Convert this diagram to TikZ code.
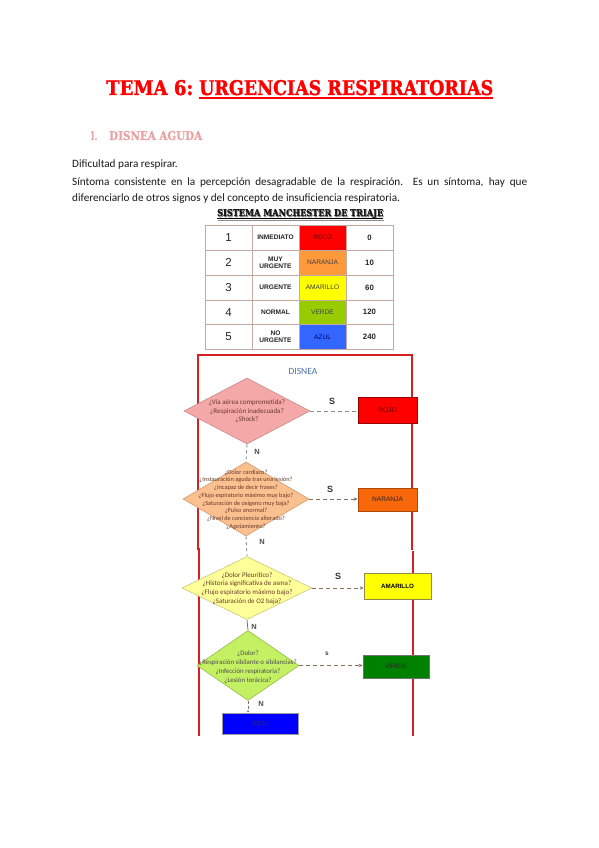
\documentclass[tikz,border=0pt]{standalone}
\usepackage{fontspec}
\setmainfont{Carlito}
\newfontfamily\serifttl[FakeBold=1.6]{DejaVu Serif Bold}
\newfontfamily\serifsub[FakeBold=0.8]{DejaVu Serif Bold}
\newfontfamily\arialf{Liberation Sans}
\usetikzlibrary{shapes.geometric,arrows.meta}
\definecolor{titlered}{HTML}{FF0000}
\definecolor{headpink}{HTML}{EAA2A2}
\definecolor{tabborder}{HTML}{C2AAA2}
\definecolor{trojo}{HTML}{FF0000}
\definecolor{tnaranja}{HTML}{FF9A3A}
\definecolor{tamarillo}{HTML}{FFFF00}
\definecolor{tverde}{HTML}{99CC00}
\definecolor{tazul}{HTML}{3366FF}
\definecolor{framered}{HTML}{D42020}
\definecolor{disneablue}{HTML}{4F6FA8}
\definecolor{dpink}{HTML}{F5A8A8}
\definecolor{dpinkb}{HTML}{C88A8A}
\definecolor{dorange}{HTML}{FAC090}
\definecolor{doranged}{HTML}{D09A6A}
\definecolor{dyellow}{HTML}{FFFF99}
\definecolor{dyellowb}{HTML}{C8C878}
\definecolor{dlime}{HTML}{C4F064}
\definecolor{dlimeb}{HTML}{98B848}
\definecolor{brojo}{HTML}{FF0000}
\definecolor{bnaranja}{HTML}{F8680A}
\definecolor{bamarillo}{HTML}{FFFF00}
\definecolor{bverde}{HTML}{008000}
\definecolor{bazul}{HTML}{0000FF}
\definecolor{linegray}{HTML}{8C8C8C}
\definecolor{linebrown}{HTML}{86705E}
\definecolor{dtxt}{HTML}{6A3A2A}
\tikzset{
  tcell/.style={draw=tabborder, line width=0.8pt},
  tnum/.style={font=\arialf\fontsize{11.5}{12}\selectfont, text=black!85},
  tlab/.style={font=\arialf\bfseries\fontsize{6.6}{7.4}\selectfont, align=center, text=black!85},
  tcol/.style={font=\arialf\fontsize{6.6}{7}\selectfont, text=black!75},
  tval/.style={font=\arialf\bfseries\fontsize{7.8}{8}\selectfont, text=black!85},
  dia/.style={diamond, minimum width=#1, inner sep=0pt, line width=0.6pt},
  dtext/.style={align=center, inner sep=0pt, text=dtxt},
  fbox/.style={rectangle, inner sep=0pt, line width=0.6pt, font=\arialf\fontsize{6.6}{7}\selectfont},
  sdash/.style={dash pattern=on 4pt off 3pt, line width=0.9pt},
  lbl/.style={font=\arialf\bfseries\fontsize{9}{10}\selectfont, text=black!80, inner sep=0pt},
  nlbl/.style={font=\arialf\bfseries\fontsize{7.5}{8}\selectfont, text=black!70, inner sep=0pt},
  tip/.style={-{Stealth[length=4pt,width=3.5pt]}},
  frame/.style={draw=framered, line width=1.3pt},
  body/.style={anchor=base west, inner sep=0pt, font=\fontsize{11.2}{13}\selectfont, text=black!90}
}
\begin{document}
\begin{tikzpicture}[x=1pt,y=-1pt]
\useasboundingbox (0,0) rectangle (599,848);
\fill[white] (0,0) rectangle (599,848);
% title
\node[anchor=base west, inner sep=0pt, text=titlered] (t1) at (106,95) {\serifttl\resizebox{87pt}{15pt}{TEMA 6:}};
\node[anchor=base west, inner sep=0pt, text=titlered] (t2) at (199,95) {\serifttl\resizebox{294pt}{15pt}{URGENCIAS RESPIRATORIAS}};
\draw[titlered, line width=1.4pt] (t2.base west) ++(0,3) -- ++(294,0);
% heading
\node[anchor=base west, inner sep=0pt, text=headpink] (h1) at (90,140) {\serifsub\resizebox{7pt}{9pt}{1.}};
\node[anchor=base west, inner sep=0pt, text=headpink] (h2) at (109,140) {\serifsub\resizebox{93pt}{9pt}{DISNEA AGUDA}};
% body
\node[body] (b1) at (72,167) {Dificultad para respirar.};
\node[body] (b2) at (72,185) {\makebox[455pt][s]{Síntoma consistente en la percepción desagradable de la respiración.\ \ Es un síntoma, hay que}};
\node[body] (b3) at (72,201) {diferenciarlo de otros signos y del concepto de insuficiencia respiratoria.};
% table title
\node[anchor=base west, inner sep=0pt, text=black!45] (st0) at (217.8,217.2) {\serifsub\resizebox{166pt}{7pt}{SISTEMA MANCHESTER DE TRIAJE}};
\draw[black!45, line width=1pt] (218,220) -- (384,220);
\node[anchor=base west, inner sep=0pt, text=black!90] (st) at (217,216) {\serifsub\resizebox{166pt}{7pt}{SISTEMA MANCHESTER DE TRIAJE}};
\draw[black, line width=0.7pt] (217,218.6) -- (383,218.6);
% table colored cells
\fill[trojo] (299,225) rectangle (346,250);
\fill[tnaranja] (299,250) rectangle (346,275);
\fill[tamarillo] (299,275) rectangle (346,300);
\fill[tverde] (299,300) rectangle (346,324.5);
\fill[tazul] (299,324.5) rectangle (346,349);
\foreach \ya/\yb in {225/250,250/275,275/300,300/324.5,324.5/349}{
  \foreach \xa/\xb in {205/252,252/299,299/346,346/393}{
    \draw[tcell] (\xa,\ya) rectangle (\xb,\yb);
  }
}
\node[tnum] (n1) at (228.5,237.5) {1};
\node[tnum] (n2) at (228.5,262.5) {2};
\node[tnum] (n3) at (228.5,287.5) {3};
\node[tnum] (n4) at (228.5,312.2) {4};
\node[tnum] (n5) at (228.5,336.8) {5};
\node[tlab] (l1) at (275.5,237.5) {INMEDIATO};
\node[tlab] (l2) at (275.5,262.5) {MUY\\URGENTE};
\node[tlab] (l3) at (275.5,287.5) {URGENTE};
\node[tlab] (l4) at (275.5,312.2) {NORMAL};
\node[tlab] (l5) at (275.5,336.8) {NO\\URGENTE};
\node[tcol, text=red!40!black] (c1) at (322.5,237.5) {ROJO};
\node[tcol] (c2) at (322.5,262.5) {NARANJA};
\node[tcol] (c3) at (322.5,287.5) {AMARILLO};
\node[tcol] (c4) at (322.5,312.2) {VERDE};
\node[tcol, text=blue!40!black] (c5) at (322.5,336.8) {AZUL};
\node[tval] (v1) at (369.5,237.5) {0};
\node[tval] (v2) at (369.5,262.5) {10};
\node[tval] (v3) at (369.5,287.5) {60};
\node[tval] (v4) at (369.5,312.2) {120};
\node[tval] (v5) at (369.5,336.8) {240};
% frame
\draw[frame] (198,550) -- (198,355) -- (412,355) -- (412,550);
\draw[frame] (199,548) -- (199,736);
\draw[frame] (413,551) -- (413,736);
\node[font=\fontsize{9.5}{10}\selectfont, text=disneablue] (ds) at (303,371) {DISNEA};
% diamonds
\node[dia=126pt, minimum height=66pt, draw=dpinkb, fill=dpink] (d1) at (247,411) {};
\node[dtext, font=\fontsize{7}{8.5}\selectfont] (d1t) at (247,411.5) {¿Vía aérea comprometida?\\¿Respiración inadecuada?\\¿Shock?};
\node[dia=126pt, minimum height=74pt, draw=doranged, fill=dorange] (d2) at (246,499) {};
\node[dtext, font=\fontsize{6.3}{7.7}\selectfont] (d2t) at (246,499.5) {¿Dolor cardiaco?\\¿Instauración aguda tras una lesión?\\¿Incapaz de decir frases?\\¿Flujo espiratorio máximo muy bajo?\\¿Saturación de oxígeno muy baja?\\¿Pulso anormal?\\¿Nivel de conciencia alterado?\\¿Agotamiento?};
\node[dia=130pt, minimum height=63pt, draw=dyellowb, fill=dyellow] (d3) at (247,588) {};
\node[dtext, font=\fontsize{7}{8.7}\selectfont] (d3t) at (247,588.5) {¿Dolor Pleurítico?\\¿Historia significativa de asma?\\¿Flujo espiratorio máximo bajo?\\¿Saturación de O2 baja?};
\node[dia=102pt, minimum height=70pt, draw=dlimeb, fill=dlime] (d4) at (248,665.5) {};
\node[dtext, font=\fontsize{6.8}{9}\selectfont, text=black!70] (d4t) at (248,667) {¿Dolor?\\¿Respiración sibilante o sibilancias?\\¿Infección respiratoria?\\¿Lesión torácica?};
% outcome boxes
\node[fbox, draw=red!60!black, fill=brojo, minimum width=59pt, minimum height=26pt, text=red!35!black] (rojo) at (387.5,410) {ROJO};
\node[fbox, draw=bnaranja!70!black, fill=bnaranja, minimum width=59pt, minimum height=23pt, text=black!85] (naranja) at (387.5,499.5) {NARANJA};
\node[fbox, draw=yellow!50!black, fill=bamarillo, minimum width=67pt, minimum height=26pt, text=black, font=\arialf\bfseries\fontsize{6.2}{7}\selectfont] (amarillo) at (397.5,586) {AMARILLO};
\node[fbox, draw=black!55, fill=bverde, minimum width=66pt, minimum height=23pt, text=black!85, font=\arialf\fontsize{6.3}{7}\selectfont] (verde) at (396,666.5) {VERDE};
\node[fbox, draw=black!40, fill=bazul, minimum width=76pt, minimum height=21pt, text=black!80, font=\arialf\fontsize{6}{7}\selectfont] (azul) at (260,723.5) {AZUL};
% connectors
\draw[sdash, linegray] (d1.east) -- (rojo.west |- d1.east);
\draw[sdash, linebrown, tip] (d2.east) -- (naranja.west |- d2.east);
\draw[sdash, linebrown, tip] (d3.east) -- (amarillo.west |- d3.east);
\draw[sdash, linebrown, tip] (d4.east) -- (verde.west |- d4.east);
\draw[dash pattern=on 3pt off 3pt, line width=0.9pt, linegray] (d1.south) -- (d2.north);
\draw[dash pattern=on 3pt off 3pt, line width=0.9pt, linegray] (d2.south) -- (d3.north);
\draw[line width=0.8pt, linebrown] (d3.south) -- (d4.north);
\draw[dash pattern=on 3pt off 2pt, line width=0.8pt, linebrown, -{Stealth[length=2.5pt,width=2.5pt]}] (d4.south) -- (azul.north -| d4.south);
% labels
\node[lbl] (s1) at (332,401) {S};
\node[lbl] (s2) at (330,489) {S};
\node[lbl] (s3) at (338,576) {S};
\node[font=\arialf\bfseries\fontsize{6.5}{7}\selectfont, text=black!75, inner sep=0pt] (s4) at (327,654) {s};
\node[nlbl] (nn1) at (257,452) {N};
\node[nlbl] (nn2) at (262,542) {N};
\node[nlbl] (nn3) at (254,627) {N};
\node[nlbl] (nn4) at (261,704) {N};
\end{tikzpicture}
\end{document}
